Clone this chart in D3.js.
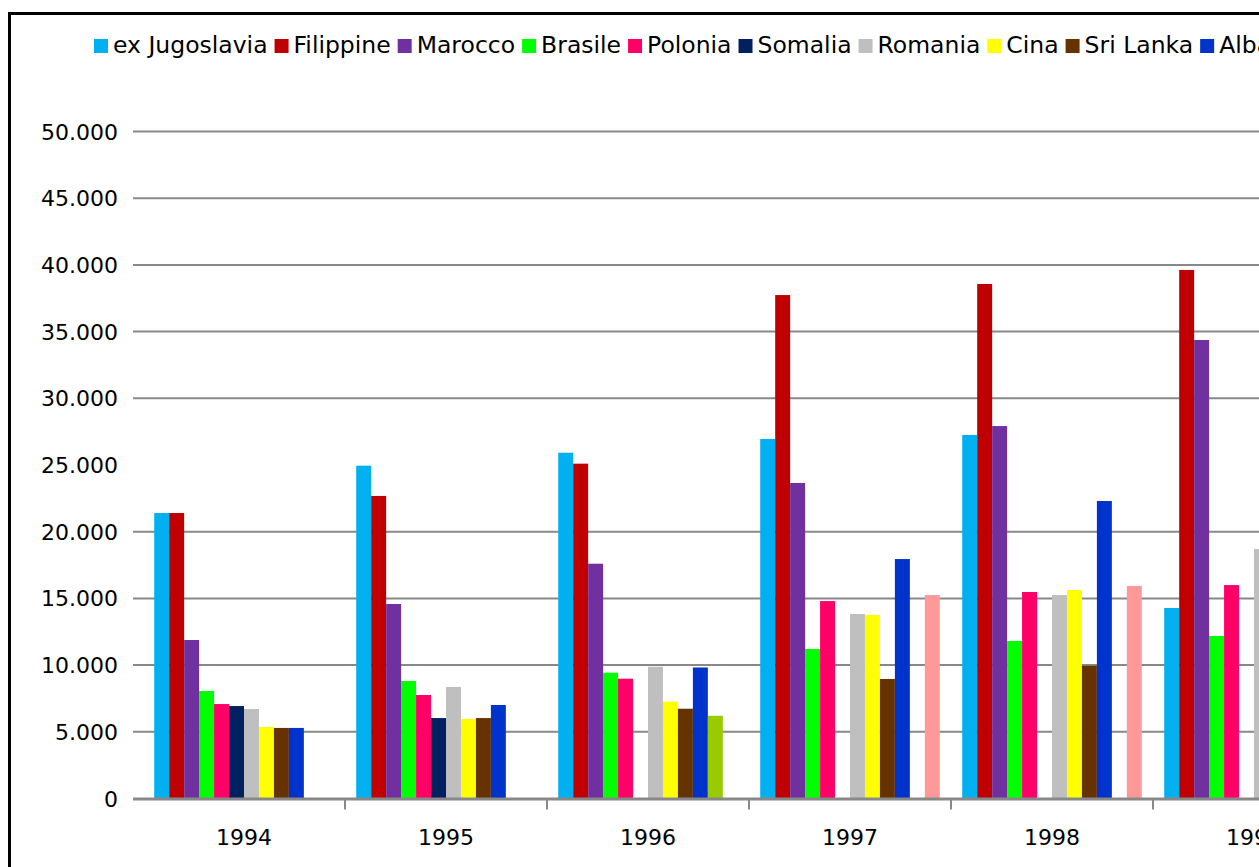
<!DOCTYPE html>
<html>
<head>
<meta charset="utf-8">
<script src="https://cdn.jsdelivr.net/npm/d3@7"></script>
<style>
  body { margin: 0; background: #fff; }
  svg { display: block; font-family: 'DejaVu Sans', Verdana, sans-serif; }
</style>
</head>
<body>
<svg id="chart" width="1259" height="867"></svg>
<script>
// --- Data (the chart is cut off on the right)
const years = ['1994', '1995', '1996', '1997', '1998', '1999']
const countries = ['ex Jugoslavia', 'Filippine', 'Marocco', 'Brasile', 'Polonia', 'Somalia',
                   'Romania', 'Cina', 'Sri Lanka', 'Albania', 'Perù', 'Egitto']
const colors = ['#00B0F0', '#C00000', '#7030A0', '#00FF00', '#FF0066', '#002060',
                '#BFBFBF', '#FFFF00', '#663300', '#0033CC', '#99CC00', '#FF9999']

const exJugoslavia = [21400, 24950, 25920, 26950, 27250, 14280]
const filippine    = [21400, 22680, 25100, 37740, 38570, 39620]
const marocco      = [11880, 14580, 17600, 23650, 27920, 34370]
const brasile      = [8060, 8810, 9430, 11210, 11810, 12180]
const polonia      = [7080, 7760, 8980, 14800, 15480, 16000]
const somalia      = [6930, 6030, 0, 0, 0, 0]
const romania      = [6710, 8360, 9880, 13830, 15250, 18700]
const cina         = [5360, 5960, 7260, 13760, 15630, null]
const sriLanka     = [5290, 6030, 6730, 8960, 9950, null]
const albania      = [5290, 7010, 9820, 17950, 22300, null]
const peru         = [0, 0, 6200, 0, 0, null]
const egitto       = [0, 0, 0, 15250, 15930, null]
const seriesValues = [exJugoslavia, filippine, marocco, brasile, polonia, somalia,
                      romania, cina, sriLanka, albania, peru, egitto]

const yTicks = [0, 5000, 10000, 15000, 20000, 25000, 30000, 35000, 40000, 45000, 50000]
const missingGridlines = [25000] // the 25.000 gridline is not drawn in the original

// --- Setup
const svg = d3.select('#chart')
const itFormat = d3.formatLocale({decimal: ',', thousands: '.', grouping: [3], currency: ['€', '']}).format(',d')

const plotLeft = 143
const step = 202
const x = d3.scaleBand().domain(years).range([plotLeft, plotLeft + step * years.length])
const xInner = d3.scaleBand().domain(d3.range(countries.length))
      .range([0, x.bandwidth()]).paddingOuter(0.75)
const y = d3.scaleLinear().domain([0, 50000]).range([798.5, 131.5])

// --- Gridlines
svg.append('g').attr('class', 'grid')
    .selectAll('line')
    .data(yTicks.filter(t => t > 0 && !missingGridlines.includes(t)))
    .join('line')
    .attr('x1', 133).attr('x2', 1400)
    .attr('y1', d => y(d)).attr('y2', d => y(d))
    .attr('stroke', '#888').attr('stroke-width', 2)

// --- Y labels
svg.append('g').attr('class', 'y-labels')
    .selectAll('text')
    .data(yTicks)
    .join('text')
    .attr('x', 118).attr('y', d => y(d) + 8)
    .attr('text-anchor', 'end')
    .attr('font-size', 22)
    .attr('fill', '#000')
    .text(d => itFormat(d))

// --- Bars
const rows = []
seriesValues.forEach((vals, i) => {
    vals.forEach((v, j) => {
        if (v) rows.push({series: i, year: years[j], value: v})
    })
})
svg.append('g').attr('class', 'bars')
    .selectAll('rect')
    .data(rows)
    .join('rect')
    .attr('x', d => x(d.year) + xInner(d.series))
    .attr('width', xInner.bandwidth())
    .attr('y', d => y(d.value))
    .attr('height', d => y(0) - y(d.value))
    .attr('fill', d => colors[d.series])

// --- X axis (baseline, category ticks, labels)
const axisG = svg.append('g').attr('class', 'x-axis')
axisG.append('line')
    .attr('x1', 133).attr('x2', 1400)
    .attr('y1', y(0) + 0.5).attr('y2', y(0) + 0.5)
    .attr('stroke', '#888').attr('stroke-width', 3)
axisG.selectAll('line.tick')
    .data(years.slice(1))
    .join('line').attr('class', 'tick')
    .attr('x1', d => x(d)).attr('x2', d => x(d))
    .attr('y1', y(0)).attr('y2', y(0) + 11)
    .attr('stroke', '#888').attr('stroke-width', 2)
axisG.selectAll('text')
    .data(years)
    .join('text')
    .attr('x', d => x(d) + x.bandwidth() / 2)
    .attr('y', 845)
    .attr('text-anchor', 'middle')
    .attr('font-size', 22)
    .text(d => d)

// --- Legend
const legend = svg.append('g').attr('class', 'legend')
let lx = 94
countries.forEach((name, i) => {
    legend.append('rect')
        .attr('x', lx).attr('y', 39).attr('width', 14).attr('height', 14)
        .attr('fill', colors[i])
    const t = legend.append('text')
        .attr('x', lx + 19).attr('y', 53)
        .attr('font-size', 23.5)
        .text(name)
    lx += 19 + t.node().getComputedTextLength() + 7
})

// --- Frame (only top and left edges are inside the picture)
svg.append('path')
    .attr('d', 'M9.5,1000V13.5H1400')
    .attr('fill', 'none')
    .attr('stroke', '#000')
    .attr('stroke-width', 3)
</script>
</body>
</html>
